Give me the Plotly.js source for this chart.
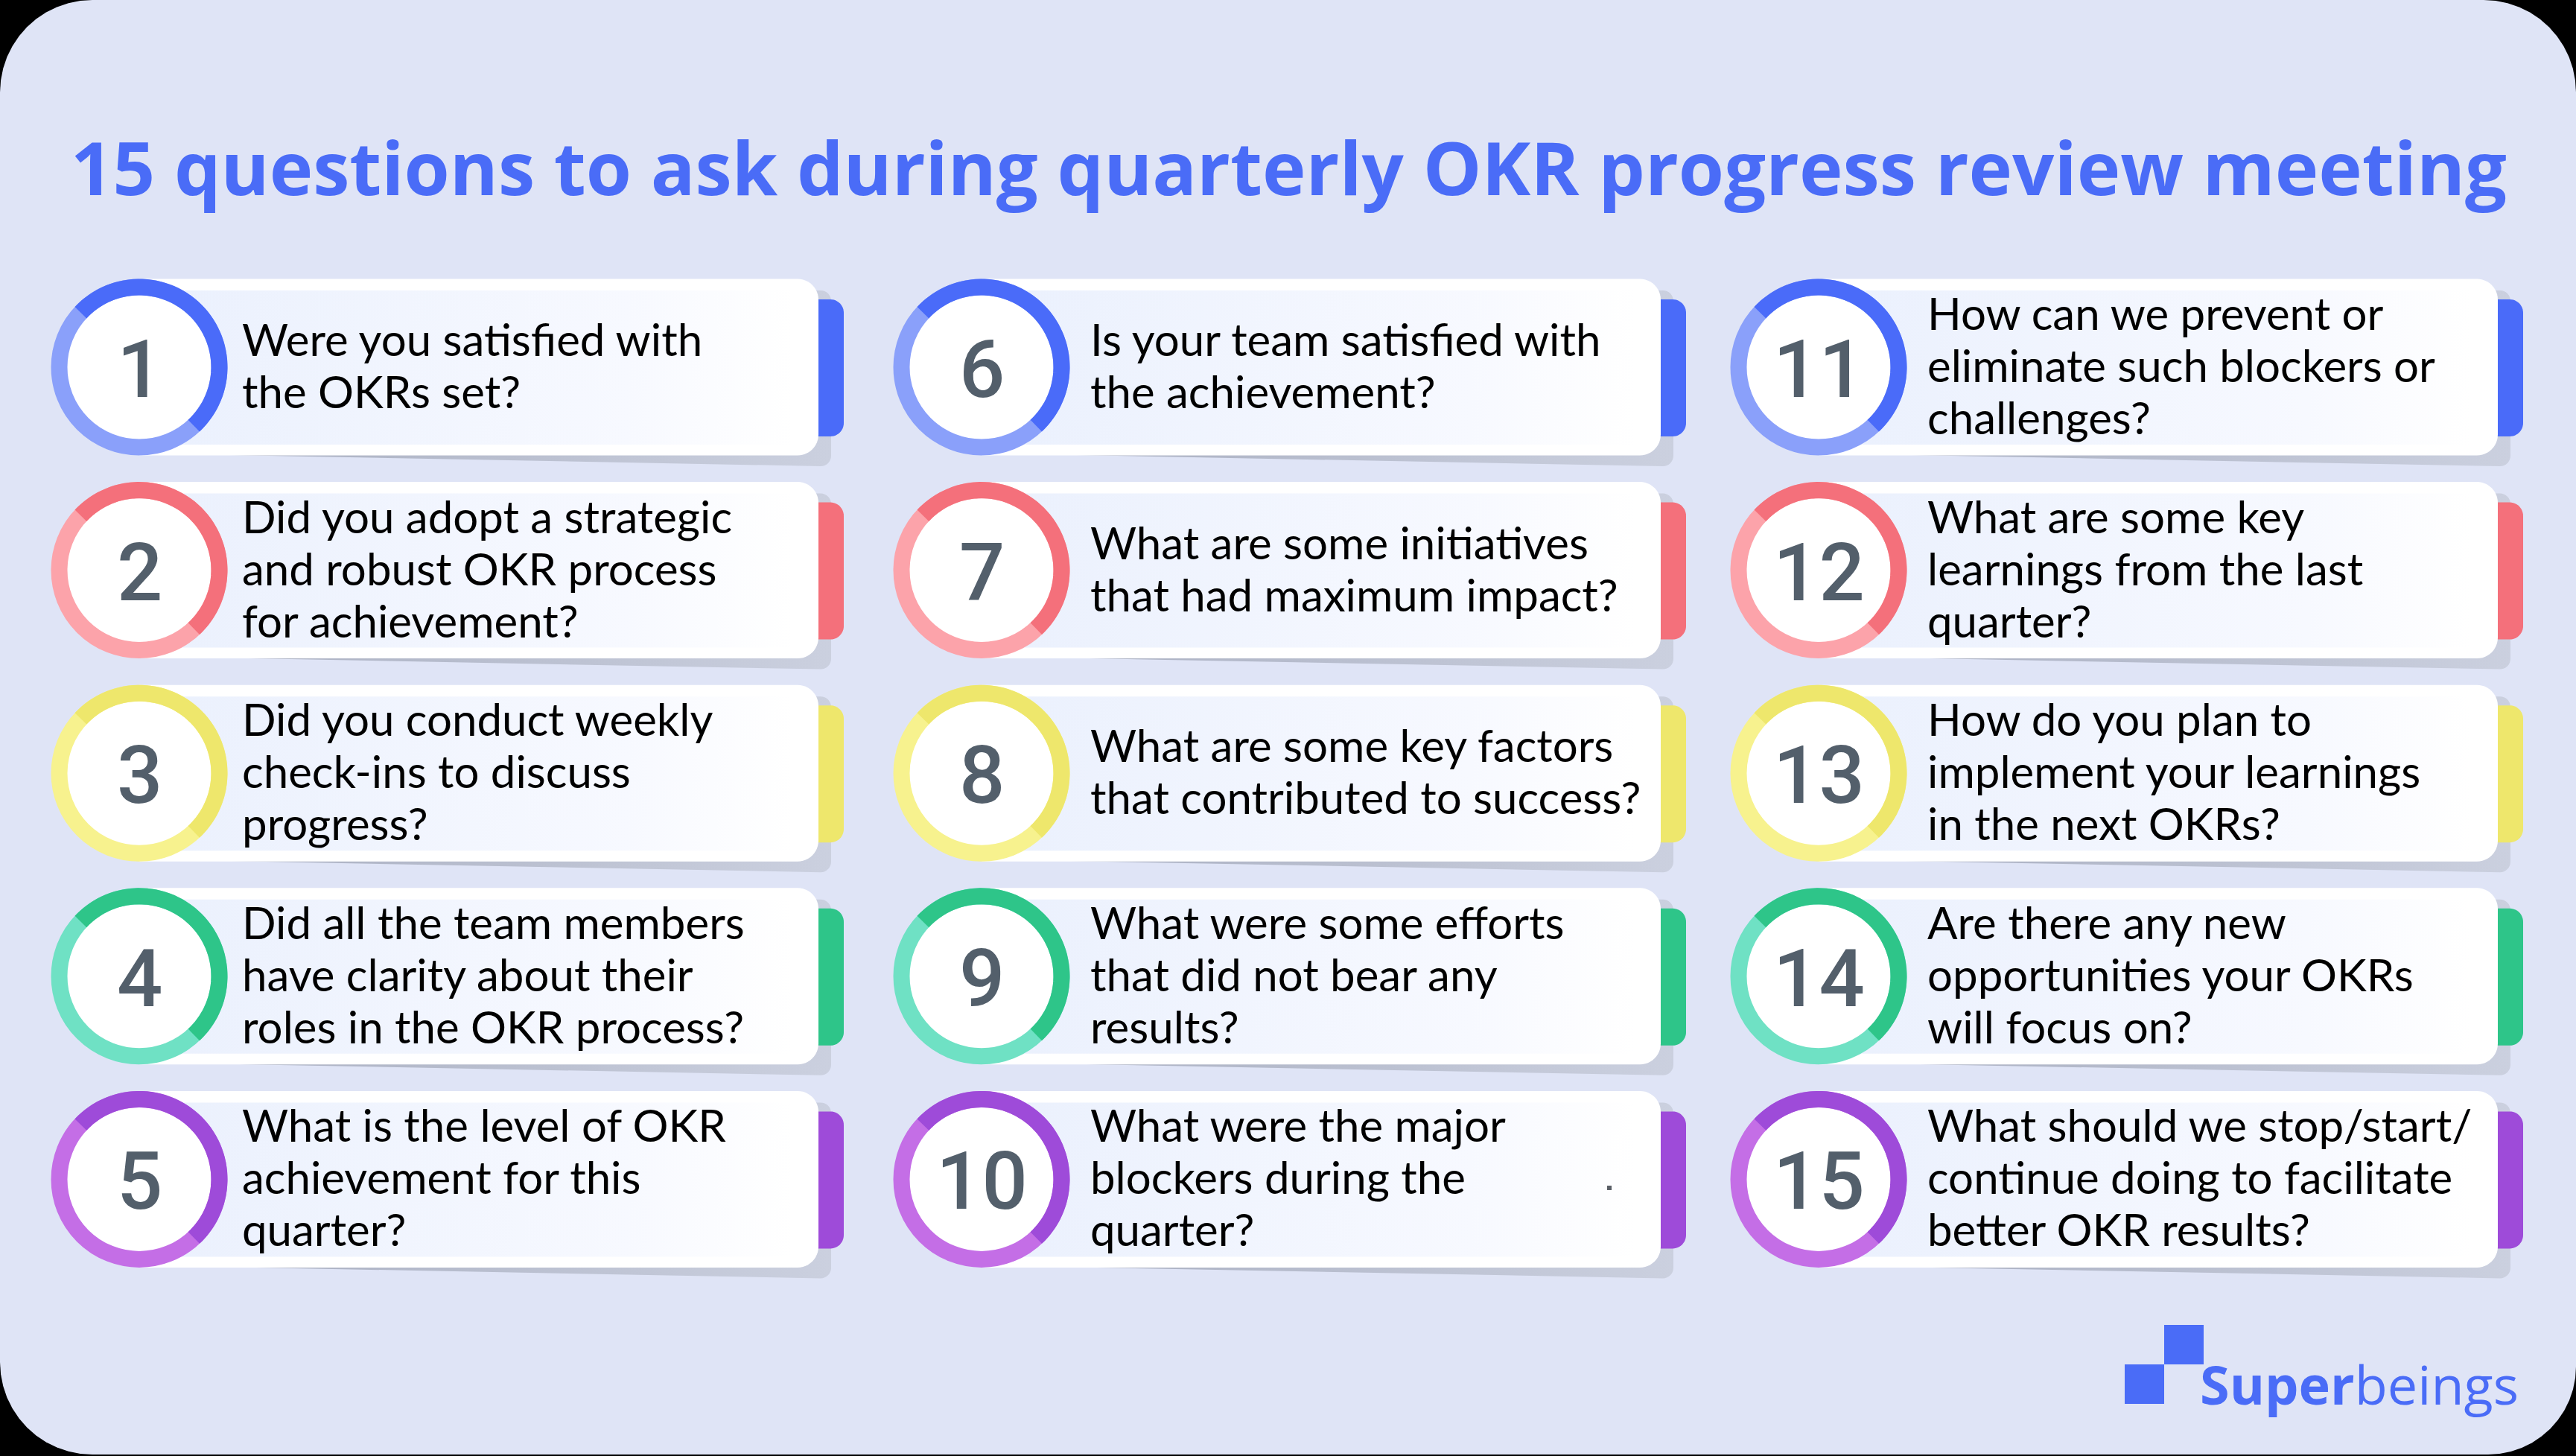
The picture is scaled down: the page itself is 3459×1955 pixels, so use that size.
<!DOCTYPE html>
<html><head><meta charset="utf-8">
<script src="https://cdn.plot.ly/plotly-3.0.1.min.js"></script>
<style>html,body{margin:0;padding:0;background:#000;overflow:hidden}</style>
</head><body><div id="chart" style="width:3459px;height:1955px"></div>
<script>
// ---------- content ----------
const titleText = "15 questions to ask during quarterly OKR progress review meeting";
const questionNumbers = [1,2,3,4,5,6,7,8,9,10,11,12,13,14,15];
const questionLines = [
  ["Were you satisfied with","the OKRs set?"],
  ["Did you adopt a strategic","and robust OKR process","for achievement?"],
  ["Did you conduct weekly","check-ins to discuss","progress?"],
  ["Did all the team members","have clarity about their","roles in the OKR process?"],
  ["What is the level of OKR","achievement for this","quarter?"],
  ["Is your team satisfied with","the achievement?"],
  ["What are some initiatives","that had maximum impact?"],
  ["What are some key factors","that contributed to success?"],
  ["What were some efforts","that did not bear any","results?"],
  ["What were the major","blockers during the","quarter?"],
  ["How can we prevent or","eliminate such blockers or","challenges?"],
  ["What are some key","learnings from the last","quarter?"],
  ["How do you plan to","implement your learnings","in the next OKRs?"],
  ["Are there any new","opportunities your OKRs","will focus on?"],
  ["What should we stop/start/","continue doing to facilitate","better OKR results?"]
];
const rowDarkColors  = ['#4A6BF9','#F4707B','#EEE76C','#2EC589','#9E4BD9'];
const rowLightColors = ['#8AA0FA','#FCA3AA','#F7F28E','#6FE1C4','#C46EE6'];
const brandParts = ['Super','beings'];

// ---------- geometry / style ----------
const W = 3459, H = 1955;
const BG = '#DFE4F6', BRAND = '#4A6CF7', NUMC = '#535F6B';
const colX = [187, 1318, 2442];
const textOff = [136, 144, 144];
const rowY0 = 493, rowStep = 272.6;
const RR = 107.5, RW = 22, CARD_W = 912, CARD_HH = 118.5;
const LINE_GAP = 70;

function arc(cx, cy, r, a0, a1, n, xs, ys) {
  for (let i = 0; i <= n; i++) {
    const a = (a0 + (a1 - a0) * i / n) * Math.PI / 180;
    xs.push(cx + r * Math.cos(a)); ys.push(cy + r * Math.sin(a));
  }
}
function roundRect(x0, y0, x1, y1, r) { // r = [tl,tr,br,bl], screen coords (y down)
  const xs = [], ys = [];
  const c = (cx, cy, rad, a0, a1) => { if (rad > 0) arc(cx, cy, rad, a0, a1, 12, xs, ys); else { xs.push(cx); ys.push(cy); } };
  c(x0 + r[0], y0 + r[0], r[0], 180, 270);
  c(x1 - r[1], y0 + r[1], r[1], 270, 360);
  c(x1 - r[2], y1 - r[2], r[2], 0, 90);
  c(x0 + r[3], y1 - r[3], r[3], 90, 180);
  xs.push(xs[0]); ys.push(ys[0]);
  return {x: xs, y: ys};
}
function toPath(p) {
  return p.x.map((x, i) => (i ? 'L' : 'M') + x.toFixed(1) + ',' + p.y[i].toFixed(1)).join(' ') + ' Z';
}
function polyTrace(p, color, grad) {
  const t = {type: 'scatter', mode: 'none', x: p.x, y: p.y, fill: 'toself', fillcolor: color, hoverinfo: 'skip', showlegend: false};
  if (grad) t.fillgradient = {type: 'horizontal', colorscale: grad};
  return t;
}

const traces = [], shapes = [], annotations = [];

// background rounded panel
shapes.push({type: 'path', xref: 'x', yref: 'y', layer: 'below', path: toPath(roundRect(0, 0, W, H - 2, [124, 124, 118, 124])), fillcolor: BG, line: {width: 0}});

questionNumbers.forEach((num, q) => {
  const col = Math.floor(q / 5), row = q % 5;
  const cx = colX[col], cy = rowY0 + row * rowStep;
  const right = cx + CARD_W;
  const dark = rowDarkColors[row], light = rowLightColors[row];

  // shadow
  const sx = [], sy = [];
  sx.push(cx + 20); sy.push(cy + 116);
  sx.push(right + 3); sy.push(cy + 133);
  arc(right + 3, cy + 119, 14, 90, 0, 8, sx, sy);
  arc(right + 3, cy - 89, 14, 0, -90, 8, sx, sy);
  sx.push(right - 30); sy.push(cy - 103);
  sx.push(right - 30); sy.push(cy + 116);
  sx.push(cx + 20); sy.push(cy + 116);
  traces.push(polyTrace({x: sx, y: sy}, '#BCC2D3', [[0, '#A6ACBE'], [1, '#CBD0DF']]));
  // coloured tab
  traces.push(polyTrace(roundRect(right - 30, cy - 91, right + 34, cy + 93, [0, 18, 18, 0]), dark));
  // white card
  traces.push(polyTrace(roundRect(cx, cy - CARD_HH, right, cy + CARD_HH, [0, 28, 28, 0]), '#FFFFFF'));
  // tinted inner panel
  traces.push(polyTrace(roundRect(cx, cy - 103, right - 36, cy + 104, [0, 0, 0, 0]), '#F4F7FE', [[0, '#EAF0FD'], [0.75, '#F7F9FF'], [1, '#FFFFFF']]));

  // ring
  shapes.push({type: 'circle', xref: 'x', yref: 'y', layer: 'above', x0: cx - RR, x1: cx + RR, y0: cy - RR, y1: cy + RR, fillcolor: '#FFFFFF', line: {color: light, width: RW}});
  const ax = [], ay = [];
  for (let i = 0; i <= 60; i++) {
    const a = (137 + (-47 - 137) * i / 60) * Math.PI / 180;
    ax.push(cx + RR * Math.cos(a)); ay.push(cy - RR * Math.sin(a));
  }
  shapes.push({type: 'path', xref: 'x', yref: 'y', layer: 'above', path: ax.map((x, i) => (i ? 'L' : 'M') + x.toFixed(1) + ',' + ay[i].toFixed(1)).join(' '), line: {color: dark, width: RW}});

  // number
  annotations.push({x: cx, y: cy + 3, xref: 'x', yref: 'y', text: String(num), showarrow: false, xanchor: 'center', yanchor: 'middle',
    font: {family: 'Roboto, sans-serif', size: 108, color: NUMC, weight: 500}});
  // question lines
  const lines = questionLines[q], n = lines.length;
  lines.forEach((ln, i) => {
    annotations.push({x: cx + textOff[col], y: cy - 3 + (i - (n - 1) / 2) * LINE_GAP, xref: 'x', yref: 'y', text: ln, showarrow: false,
      xanchor: 'left', yanchor: 'middle', font: {family: 'Lato, sans-serif', size: 60, color: '#000000'}});
  });
});

// stray dot in card 10
shapes.push({type: 'rect', xref: 'x', yref: 'y', layer: 'above', x0: 2158, x1: 2164, y0: 1592, y1: 1598, fillcolor: '#5A5F66', line: {width: 0}});

// title
annotations.push({x: 1730, y: 223, xref: 'x', yref: 'y', text: titleText, showarrow: false, xanchor: 'center', yanchor: 'middle',
  font: {family: '"Open Sans", sans-serif', size: 99, color: BRAND, weight: 700}});

// logo
shapes.push({type: 'rect', xref: 'x', yref: 'y', layer: 'above', x0: 2906, x1: 2959, y0: 1779, y1: 1832, fillcolor: BRAND, line: {width: 0}});
shapes.push({type: 'rect', xref: 'x', yref: 'y', layer: 'above', x0: 2853, x1: 2906, y0: 1832, y1: 1885, fillcolor: BRAND, line: {width: 0}});
annotations.push({x: 2952, y: 1858, xref: 'x', yref: 'y', text: '<b>' + brandParts[0] + '</b>' + brandParts[1], showarrow: false, xanchor: 'left', yanchor: 'middle',
  font: {family: '"Open Sans", sans-serif', size: 72, color: BRAND}});

const layout = {
  width: W, height: H, margin: {l: 0, r: 0, t: 0, b: 0, pad: 0},
  paper_bgcolor: '#000000', plot_bgcolor: '#000000',
  xaxis: {range: [0, W], visible: false, fixedrange: true},
  yaxis: {range: [H, 0], visible: false, fixedrange: true},
  shapes: shapes, annotations: annotations, showlegend: false, hovermode: false
};
Plotly.newPlot('chart', traces, layout, {displayModeBar: false, staticPlot: true});
</script></body></html>
